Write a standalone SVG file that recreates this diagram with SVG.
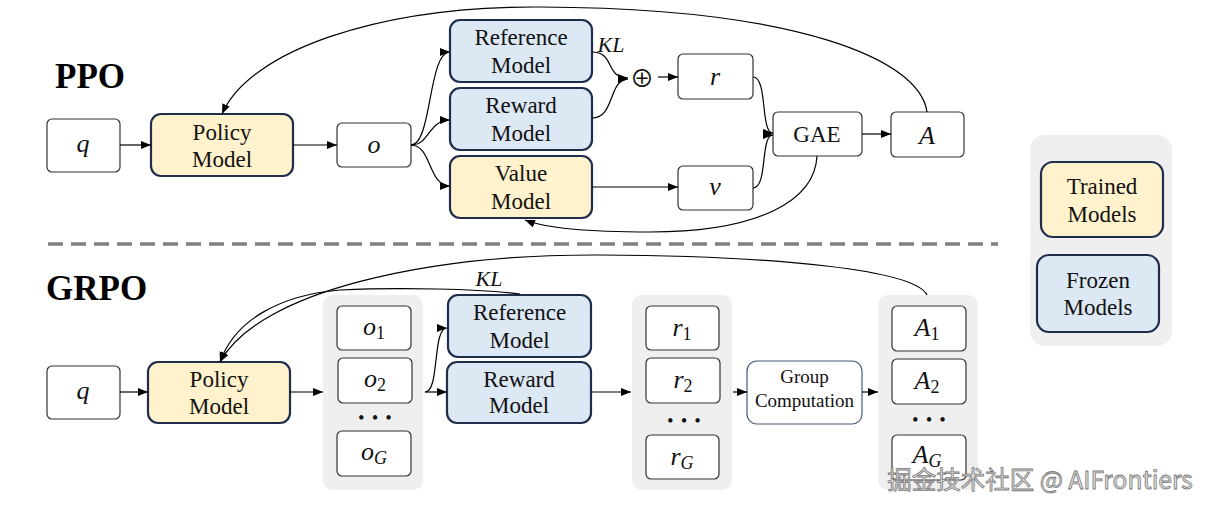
<svg xmlns="http://www.w3.org/2000/svg" width="1216" height="510" viewBox="0 0 1216 510">
<defs>
<marker id="ah" markerUnits="userSpaceOnUse" markerWidth="10" markerHeight="8" refX="10" refY="4" orient="auto">
<path d="M0,0 L10,4 L0,8 z" fill="#000"/>
</marker>
<style>
.box{fill:#fff;stroke:#333;stroke-width:1.2}
.trained{fill:#fff2cc;stroke:#1f2d4d;stroke-width:2.2}
.frozen{fill:#dde8f5;stroke:#1f2d4d;stroke-width:2.2}
.panel{fill:#efefef;stroke:none}
.lbl{font-family:"Liberation Serif","Times New Roman",serif;font-size:23px;fill:#111;text-anchor:middle}
.math{font-family:"Liberation Serif","Times New Roman",serif;font-style:italic;font-size:26px;fill:#111;text-anchor:middle}
.sub{font-style:normal;font-size:18px}
.subi{font-style:italic;font-size:18px}
.title{font-family:"Liberation Serif","Times New Roman",serif;font-weight:bold;font-size:35px;fill:#000}
.dots{font-family:"Liberation Serif",serif;font-size:16px;font-weight:bold;letter-spacing:2px;fill:#111;text-anchor:middle}
.conn path{fill:none;stroke:#000;stroke-width:1.2}
.arr{marker-end:url(#ah)}
</style>
</defs>
<rect x="0" y="0" width="1216" height="510" fill="#fff"/>

<!-- titles -->
<text class="title" x="55" y="88">PPO</text>
<text class="title" x="46" y="300">GRPO</text>

<!-- divider -->
<path d="M48,244 L998,244" stroke="#808080" stroke-width="3.5" stroke-dasharray="15 8" fill="none"/>

<!-- panels -->
<rect class="panel" x="1030" y="135" width="142" height="211" rx="15"/>
<rect class="panel" x="323" y="295" width="100" height="195" rx="10"/>
<rect class="panel" x="632" y="295" width="100" height="195" rx="10"/>
<rect class="panel" x="878" y="295" width="100" height="195" rx="10"/>

<!-- PPO nodes -->
<g id="ppo-q"><rect class="box" x="47" y="119" width="73" height="53" rx="5"/><text class="math" x="83" y="152">q</text></g>
<g id="ppo-policy"><rect class="trained" x="151" y="114" width="142" height="62" rx="10"/><text class="lbl" x="222" y="140">Policy</text><text class="lbl" x="222" y="167">Model</text></g>
<g id="ppo-o"><rect class="box" x="337" y="123" width="74" height="44" rx="5"/><text class="math" x="374" y="153">o</text></g>
<g id="ppo-ref"><rect class="frozen" x="450" y="20" width="142" height="62" rx="10"/><text class="lbl" x="521" y="45">Reference</text><text class="lbl" x="521" y="73">Model</text></g>
<g id="ppo-reward"><rect class="frozen" x="450" y="88" width="142" height="62" rx="10"/><text class="lbl" x="521" y="113">Reward</text><text class="lbl" x="521" y="141">Model</text></g>
<g id="ppo-value"><rect class="trained" x="450" y="156" width="142" height="62" rx="10"/><text class="lbl" x="521" y="181">Value</text><text class="lbl" x="521" y="209">Model</text></g>
<g id="ppo-plus"><text x="642" y="87" font-family="'Noto Sans CJK SC','DejaVu Serif',serif" font-size="24" text-anchor="middle" fill="#111">⊕</text></g>
<g id="ppo-r"><rect class="box" x="678" y="54" width="75" height="45" rx="5"/><text class="math" x="715" y="85">r</text></g>
<g id="ppo-v"><rect class="box" x="678" y="166" width="75" height="44" rx="5"/><text class="math" x="715" y="195">v</text></g>
<g id="ppo-gae"><rect class="box" x="773" y="112" width="89" height="44" rx="5"/><text class="lbl" x="817" y="142">GAE</text></g>
<g id="ppo-a"><rect class="box" x="891" y="112" width="73" height="45" rx="5"/><text class="math" x="927" y="144">A</text></g>

<!-- GRPO nodes -->
<g id="grpo-q"><rect class="box" x="47" y="366" width="73" height="53" rx="5"/><text class="math" x="83" y="399">q</text></g>
<g id="grpo-policy"><rect class="trained" x="148" y="362" width="142" height="61" rx="10"/><text class="lbl" x="219" y="387">Policy</text><text class="lbl" x="219" y="414">Model</text></g>
<g id="grpo-o1"><rect class="box" x="337" y="306" width="74" height="44" rx="5"/><text class="math" x="374" y="335">o<tspan class="sub" dy="4">1</tspan></text></g>
<g id="grpo-o2"><rect class="box" x="338" y="358" width="74" height="45" rx="5"/><text class="math" x="375" y="387">o<tspan class="sub" dy="4">2</tspan></text></g>
<text class="dots" x="376" y="423">• • •</text>
<g id="grpo-oG"><rect class="box" x="337" y="431" width="74" height="45" rx="5"/><text class="math" x="374" y="460">o<tspan class="subi" dy="4">G</tspan></text></g>
<g id="grpo-ref"><rect class="frozen" x="448" y="295" width="143" height="62" rx="10"/><text class="lbl" x="519.5" y="320">Reference</text><text class="lbl" x="519.5" y="348">Model</text></g>
<g id="grpo-reward"><rect class="frozen" x="447" y="362" width="144" height="61" rx="10"/><text class="lbl" x="519" y="387">Reward</text><text class="lbl" x="519" y="413">Model</text></g>
<g id="grpo-r1"><rect class="box" x="646" y="306" width="73" height="44" rx="5"/><text class="math" x="682" y="336">r<tspan class="sub" dy="4">1</tspan></text></g>
<g id="grpo-r2"><rect class="box" x="646" y="358" width="74" height="45" rx="5"/><text class="math" x="683" y="388">r<tspan class="sub" dy="4">2</tspan></text></g>
<text class="dots" x="685" y="426">• • •</text>
<g id="grpo-rG"><rect class="box" x="646" y="435" width="73" height="44" rx="5"/><text class="math" x="682" y="465">r<tspan class="subi" dy="4">G</tspan></text></g>
<g id="grpo-group"><rect x="747" y="361" width="115" height="63" rx="10" fill="#fff" stroke="#4a5a7a" stroke-width="1.2"/><text class="lbl" x="804.5" y="383" style="font-size:19px">Group</text><text class="lbl" x="804.5" y="407" style="font-size:19px">Computation</text></g>
<g id="grpo-A1"><rect class="box" x="892" y="306" width="74" height="45" rx="5"/><text class="math" x="927" y="336">A<tspan class="sub" dy="4">1</tspan></text></g>
<g id="grpo-A2"><rect class="box" x="892" y="359" width="74" height="45" rx="5"/><text class="math" x="927" y="389">A<tspan class="sub" dy="4">2</tspan></text></g>
<text class="dots" x="930" y="425">• • •</text>
<g id="grpo-AG"><rect class="box" x="892" y="435" width="74" height="45" rx="5"/><text class="math" x="927" y="463">A<tspan class="subi" dy="4">G</tspan></text></g>

<!-- legend -->
<g id="legend-trained"><rect class="trained" x="1041" y="162" width="122" height="75" rx="12"/><text class="lbl" x="1102" y="194">Trained</text><text class="lbl" x="1102" y="222">Models</text></g>
<g id="legend-frozen"><rect class="frozen" x="1037" y="255" width="122" height="77" rx="12"/><text class="lbl" x="1098" y="288">Frozen</text><text class="lbl" x="1098" y="315">Models</text></g>

<!-- connectors -->
<g class="conn" id="connectors">
<path class="arr" d="M120,145 L151,145"/>
<path class="arr" d="M293,145 L337,145"/>
<path class="arr" d="M411,145 C432,145 428,52 450,52"/>
<path class="arr" d="M411,145 C430,145 428,120 450,120"/>
<path class="arr" d="M411,145 C432,145 428,186 450,186"/>
<path class="arr" d="M592,52 C615,52 605,78 628,78"/>
<path class="arr" d="M592,118 C615,118 608,80 628,79"/>
<path class="arr" d="M658,77 L678,77"/>
<path class="arr" d="M753,77 C768,77 760,133 773,133"/>
<path class="arr" d="M753,188 C768,188 760,135 773,135"/>
<path class="arr" d="M592,187 L678,187"/>
<path class="arr" d="M862,134 L891,134"/>
<path class="arr" d="M927,112 C920,60 800,8 540,7 C380,6 250,50 222,114"/>
<path class="arr" d="M817,156 C815,200 760,232 650,232 C590,232 545,228 525,220"/>

<path class="arr" d="M120,392 L148,392"/>
<path class="arr" d="M290,392 L323,392"/>
<path class="arr" d="M425,392 L447,392"/>
<path class="arr" d="M425,392 C440,392 432,328 447,328"/>
<path class="arr" d="M591,392 L631,392"/>
<path class="arr" d="M733,392 L747,392"/>
<path class="arr" d="M862,392 L878,392"/>
<path class="arr" d="M927,295 C915,270 780,256 600,255 C430,254 260,290 220,362"/>
<path class="arr" d="M520,294 C480,289 400,287 340,290 C280,295 235,320 220,362"/>
</g>

<!-- edge labels -->
<text class="math" x="611" y="52" style="font-size:22px">KL</text>
<text class="math" x="489" y="286" style="font-size:22px">KL</text>

<!-- watermark -->
<text x="1040" y="489" text-anchor="middle" font-family="'Noto Sans CJK SC','Noto Sans',sans-serif" font-size="24.5" fill="#e2e2e2" stroke="#7a7a7a" stroke-width="0.8">掘金技术社区 @ AIFrontiers</text>
</svg>
